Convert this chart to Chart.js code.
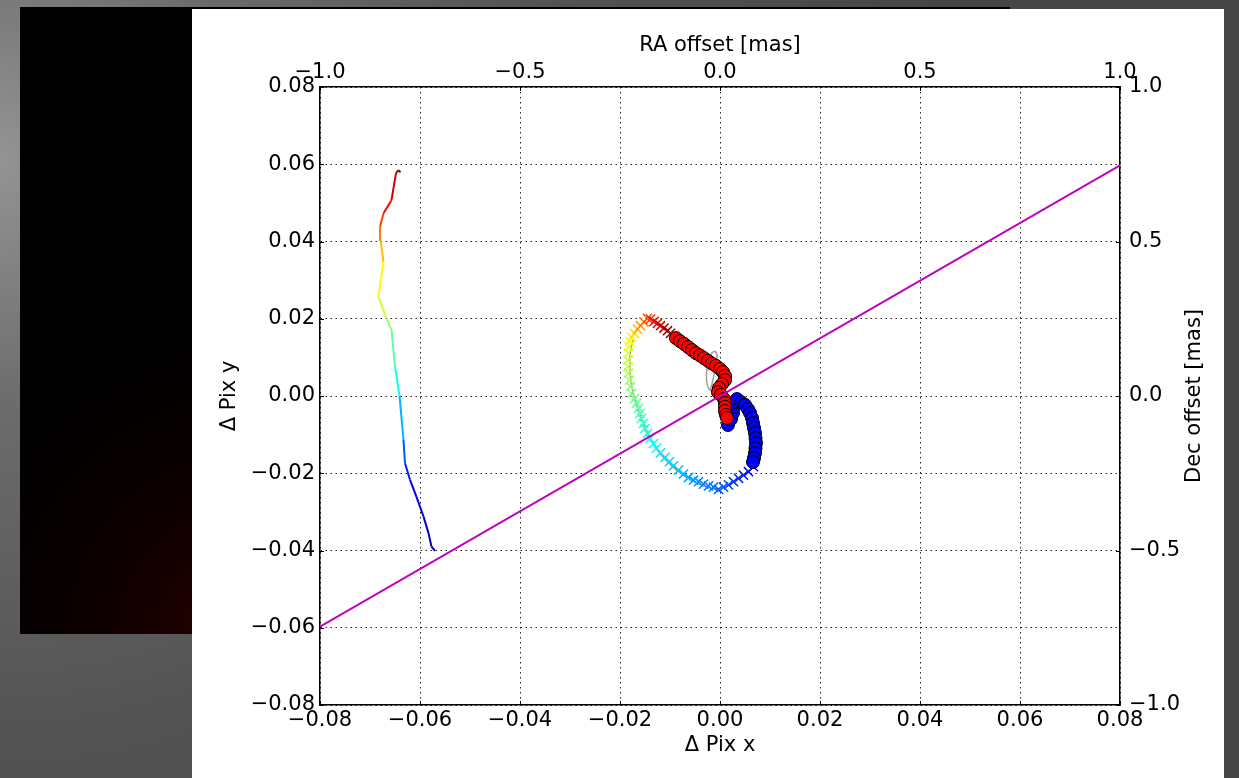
<!DOCTYPE html>
<html><head><meta charset="utf-8">
<script src="https://cdn.jsdelivr.net/npm/chart.js@4.4.1/dist/chart.umd.min.js"></script>
<style>html,body{margin:0;padding:0;background:#555;overflow:hidden}canvas{display:block}</style>
</head><body>
<canvas id="c" width="1239" height="778"></canvas>
<script>
// ---- data ----
const leftTrackX = [-0.0570,-0.0577,-0.0583,-0.0593,-0.0607,-0.0620,-0.0630,-0.0633,-0.0641,-0.0650,-0.0657,-0.0667,-0.0683,-0.0673,-0.0679,-0.0680,-0.0673,-0.0657,-0.0648,-0.0643,-0.0639];
const leftTrackY = [-0.0401,-0.0390,-0.0355,-0.0312,-0.0261,-0.0217,-0.0174,-0.0114,0.0001,0.0076,0.0171,0.0201,0.0257,0.0348,0.0404,0.0438,0.0473,0.0507,0.0577,0.0585,0.0579];

const crossX = [0.0067,0.0057,0.0047,0.0037,0.0027,0.0017,0.0007,-0.0003,-0.0013,-0.0023,-0.0033,-0.0043,-0.0053,-0.0063,-0.0073,-0.0083,-0.0093,-0.0101,-0.0110,-0.0119,-0.0127,-0.0133,-0.0140,-0.0145,-0.0150,-0.0153,-0.0157,-0.0160,-0.0163,-0.0167,-0.0171,-0.0177,-0.0179,-0.0181,-0.0183,-0.0184,-0.0184,-0.0183,-0.0182,-0.0180,-0.0177,-0.0171,-0.0165,-0.0159,-0.0152,-0.0145,-0.0139,-0.0132,-0.0125,-0.0119,-0.0112,-0.0105,-0.0099];
const crossY = [-0.0183,-0.0196,-0.0205,-0.0213,-0.0222,-0.0230,-0.0236,-0.0242,-0.0236,-0.0233,-0.0228,-0.0222,-0.0218,-0.0211,-0.0202,-0.0192,-0.0181,-0.0170,-0.0159,-0.0147,-0.0135,-0.0123,-0.0110,-0.0097,-0.0084,-0.0071,-0.0058,-0.0045,-0.0032,-0.0019,-0.0007,0.0007,0.0024,0.0041,0.0059,0.0076,0.0093,0.0111,0.0128,0.0141,0.0152,0.0162,0.0173,0.0182,0.0192,0.0201,0.0199,0.0193,0.0188,0.0182,0.0176,0.0169,0.0162];

const redX = [-0.0088,-0.0080,-0.0072,-0.0064,-0.0056,-0.0048,-0.0040,-0.0032,-0.0024,-0.0016,-0.0008,0.0000,0.0006,0.0010,0.0010,0.0004,-0.0002,-0.0004,0.0002,0.0008,0.0010,0.0010,0.0010,0.0012,0.0014];
const redY = [0.0150,0.0142,0.0135,0.0127,0.0119,0.0111,0.0105,0.0098,0.0091,0.0084,0.0078,0.0070,0.0062,0.0052,0.0041,0.0031,0.0021,0.0010,0.0003,-0.0008,-0.0018,-0.0028,-0.0039,-0.0049,-0.0057];

const blueX = [0.0016,0.0022,0.0026,0.0028,0.0032,0.0034,0.0042,0.0050,0.0056,0.0060,0.0064,0.0066,0.0068,0.0070,0.0071,0.0072,0.0071,0.0070,0.0068,0.0066];
const blueY = [-0.0075,-0.0060,-0.0044,-0.0028,-0.0016,-0.0008,-0.0016,-0.0023,-0.0034,-0.0044,-0.0057,-0.0070,-0.0083,-0.0096,-0.0109,-0.0122,-0.0135,-0.0148,-0.0161,-0.0171];

const grayX = [-0.0174,-0.0180,-0.0180,-0.0176,-0.0168,-0.0158,-0.0146,-0.0130,-0.0108,-0.0080,-0.0050,-0.0020,0.0004,0.0036,0.0064,0.0072,0.0070,0.0060,0.0040,0.0016,-0.0004,-0.0022,-0.0027,-0.0024,-0.0018,-0.0010,-0.0006,-0.0010,-0.0016,-0.0020];
const grayY = [0.0145,0.0106,0.0062,0.0021,-0.0016,-0.0057,-0.0093,-0.0132,-0.0166,-0.0199,-0.0223,-0.0238,-0.0238,-0.0215,-0.0184,-0.0140,-0.0093,-0.0049,-0.0018,0.0000,0.0010,0.0018,0.0047,0.0085,0.0109,0.0115,0.0104,0.0067,0.0031,0.0013];

const fitX = [-0.08, 0.08];
const fitY = [-0.0597, 0.0597];

const pixTicks = {min: -0.08, max: 0.08, step: 0.02};
const masTicks = {min: -1.0, max: 1.0, step: 0.5};

// ---- styling helpers ----
function jet(t){
  const c = v => Math.round(255*Math.max(0, Math.min(1, v)));
  return 'rgb(' + c(1.5-Math.abs(4*t-3)) + ',' + c(1.5-Math.abs(4*t-2)) + ',' + c(1.5-Math.abs(4*t-1)) + ')';
}
function anchorT(anchors, i){
  for (let k = 0; k < anchors.length-1; k++){
    const [i0,t0] = anchors[k], [i1,t1] = anchors[k+1];
    if (i <= i1) return t0 + (t1-t0)*Math.max(0,(i-i0))/(i1-i0);
  }
  return anchors[anchors.length-1][1];
}
const leftAnchors = [[0,0.03],[3,0.09],[5,0.13],[6,0.17],[7,0.25],[8,0.35],[10,0.5],[12,0.6],[14,0.72],[17,0.9],[19,0.98],[20,1.0]];
const crossAnchors = [[0,0.12],[7,0.22],[12,0.28],[20,0.37],[29,0.47],[35,0.56],[40,0.63],[43,0.73],[45,0.8],[48,0.9],[52,1.0]];

const pts = (xs, ys) => xs.map((x,i) => ({x: x, y: ys[i]}));
const fmt = d => v => {
  const s = (Math.abs(v) < 1e-9 ? 0 : v).toFixed(d);
  return s.replace('-', '\u2212');
};
const FONT = 'DejaVu Sans';

const bgPlugin = {
  id: 'bg',
  beforeDraw(chart){
    const ctx = chart.ctx, W = chart.width, H = chart.height;
    ctx.save();
    const g = ctx.createRadialGradient(0, 160, 10, 0, 160, 950);
    g.addColorStop(0, '#929292');
    g.addColorStop(0.25, '#6c6c6c');
    g.addColorStop(0.6, '#535353');
    g.addColorStop(1, '#464646');
    ctx.fillStyle = g; ctx.fillRect(0, 0, W, H);
    ctx.fillStyle = '#000'; ctx.fillRect(20, 7, 990, 627);
    const r = ctx.createRadialGradient(260, 640, 10, 260, 640, 380);
    r.addColorStop(0, 'rgba(44,0,0,1)');
    r.addColorStop(1, 'rgba(0,0,0,0)');
    ctx.fillStyle = r; ctx.fillRect(20, 7, 990, 627);
    ctx.fillStyle = '#fff'; ctx.fillRect(192, 9, 1032, H - 9);
    ctx.restore();
  }
};

const overlayPlugin = {
  id: 'overlay',
  afterDraw(chart){
    const ctx = chart.ctx, a = chart.chartArea;
    ctx.save();
    ctx.strokeStyle = '#000'; ctx.lineWidth = 1;
    const L = 4;
    const sc = chart.scales;
    ctx.beginPath();
    sc.x.ticks.forEach(t => { const p = Math.round(sc.x.getPixelForValue(t.value))+0.5; ctx.moveTo(p, a.bottom); ctx.lineTo(p, a.bottom - L); });
    sc.x2.ticks.forEach(t => { const p = Math.round(sc.x2.getPixelForValue(t.value))+0.5; ctx.moveTo(p, a.top); ctx.lineTo(p, a.top + L); });
    sc.y.ticks.forEach(t => { const p = Math.round(sc.y.getPixelForValue(t.value))+0.5; ctx.moveTo(a.left, p); ctx.lineTo(a.left + L, p); });
    sc.y2.ticks.forEach(t => { const p = Math.round(sc.y2.getPixelForValue(t.value))+0.5; ctx.moveTo(a.right, p); ctx.lineTo(a.right - L, p); });
    ctx.stroke();
    // right axis title (reads bottom-to-top like the reference)
    ctx.translate(1195, (a.top + a.bottom)/2);
    ctx.rotate(-Math.PI/2);
    ctx.fillStyle = '#000';
    ctx.font = '21px "' + FONT + '"';
    ctx.textAlign = 'center'; ctx.textBaseline = 'middle';
    ctx.fillText('Dec offset [mas]', 0, 0);
    ctx.restore();
  }
};

const tickFont = {family: FONT, size: 21};
const titleFont = {family: FONT, size: 21};
const gridDash = [1.5, 3.5];

new Chart(document.getElementById('c'), {
  type: 'scatter',
  data: {
    datasets: [
      {label: 'fit', data: pts(fitX, fitY), showLine: true, borderColor: '#bf00bf', borderWidth: 2, pointRadius: 0, order: 0},
      {label: 'red', data: pts(redX, redY), backgroundColor: '#ff0000', borderColor: '#000', borderWidth: 1, pointRadius: 6.5, order: 1},
      {label: 'blue', data: pts(blueX, blueY), backgroundColor: '#0000ff', borderColor: '#000', borderWidth: 1, pointRadius: 6.5, order: 2},
      {label: 'cross', data: pts(crossX, crossY), pointStyle: 'crossRot', pointRadius: 6.5, pointBorderWidth: 1.5,
        pointBorderColor: crossX.map((_, i) => jet(anchorT(crossAnchors, i))), backgroundColor: 'rgba(0,0,0,0)', order: 3},
      {label: 'model', data: pts(grayX, grayY), showLine: true, borderColor: '#a0a0a0', borderWidth: 1.5, pointRadius: 0, tension: 0.35, order: 4},
      {label: 'track', data: pts(leftTrackX, leftTrackY), showLine: true, borderWidth: 2, pointRadius: 0, borderColor: '#000',
        segment: {borderColor: ctx => jet(anchorT(leftAnchors, ctx.p0DataIndex + 0.5))}, order: 5}
    ]
  },
  options: {
    responsive: false, maintainAspectRatio: false, animation: false, devicePixelRatio: 1,
    layout: {padding: 0},
    plugins: {legend: {display: false}, tooltip: {enabled: false}},
    scales: {
      x: {
        type: 'linear', position: 'bottom', min: pixTicks.min, max: pixTicks.max,
        ticks: {stepSize: pixTicks.step, callback: fmt(2), font: tickFont, color: '#000', padding: 3, maxRotation: 0, autoSkip: false},
        grid: {color: '#222', lineWidth: 1, drawTicks: false},
        border: {display: true, color: '#000', width: 1.5, dash: gridDash},
        title: {display: true, text: '\u0394 Pix x', font: titleFont, color: '#000', padding: {top: 0, bottom: 20}},
        afterFit: s => { s.height = 73; }
      },
      x2: {
        type: 'linear', axis: 'x', position: 'top', min: masTicks.min, max: masTicks.max,
        ticks: {stepSize: masTicks.step, callback: fmt(1), font: tickFont, color: '#000', padding: 2, maxRotation: 0, autoSkip: false},
        grid: {display: false, drawTicks: false},
        border: {display: true, color: '#000', width: 1.5},
        title: {display: true, text: 'RA offset [mas]', font: titleFont, color: '#000', padding: {top: 33, bottom: 0}},
        afterFit: s => { s.height = 87; }
      },
      y: {
        type: 'linear', position: 'left', min: pixTicks.min, max: pixTicks.max,
        ticks: {stepSize: pixTicks.step, callback: fmt(2), font: tickFont, color: '#000', padding: 5, autoSkip: false},
        grid: {color: '#222', lineWidth: 1, drawTicks: false},
        border: {display: true, color: '#000', width: 1.5, dash: gridDash},
        title: {display: true, text: '\u0394 Pix y', font: titleFont, color: '#000', padding: {top: 217, bottom: 0}},
        afterFit: s => { s.width = 320; }
      },
      y2: {
        type: 'linear', axis: 'y', position: 'right', min: masTicks.min, max: masTicks.max,
        ticks: {stepSize: masTicks.step, callback: fmt(1), font: tickFont, color: '#000', padding: 9, autoSkip: false},
        grid: {display: false, drawTicks: false},
        border: {display: true, color: '#000', width: 1.5},
        afterFit: s => { s.width = 119; }
      }
    }
  },
  plugins: [bgPlugin, overlayPlugin]
});
</script>
</body></html>
